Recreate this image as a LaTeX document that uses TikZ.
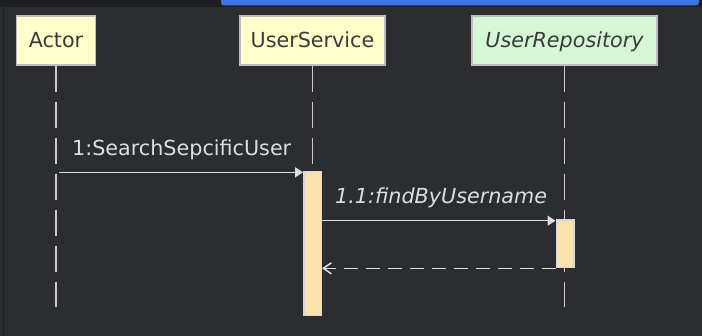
\documentclass[tikz,border=0pt]{standalone}
\usepackage{fontspec}
\setmainfont{DejaVu Sans}
\usetikzlibrary{arrows.meta}

\definecolor{canvas}{HTML}{2B2D30}
\definecolor{chrome}{HTML}{1E1F22}
\definecolor{tabblue}{HTML}{4073E6}
\definecolor{classyellow}{HTML}{FFFFCC}
\definecolor{ifacegreen}{HTML}{D5F7D5}
\definecolor{frame}{HTML}{BDBDBD}
\definecolor{ink}{HTML}{DCDDDE}
\definecolor{lifegray}{HTML}{CACACA}
\definecolor{boxtext}{HTML}{3A3A3A}
\definecolor{activation}{HTML}{FBE1B0}
\definecolor{barframe}{HTML}{D8D8D8}

\begin{document}
\begin{tikzpicture}[x=1pt,y=-1pt,
  labelfont/.style={font=\fontsize{20.7}{24}\selectfont},
  participant/.style={labelfont, draw=frame, line width=1.5pt, minimum height=49pt,
    inner sep=0pt, text height=15pt, text depth=0pt, text=boxtext},
  lifeline/.style={draw=lifegray, line width=1.5pt, dash pattern=on 26pt off 10pt},
  activationbar/.style={draw=barframe, fill=activation, line width=1.5pt,
    inner sep=0pt, minimum width=17.5pt},
  msg/.style={draw=ink, line width=1.5pt},
  call/.style={msg, -{Triangle[length=8pt,width=10pt]}},
  reply/.style={msg, dash pattern=on 14pt off 8pt,
    -{Straight Barb[length=8pt,width=11pt,line width=1.5pt]}},
  msglabel/.style={labelfont, text=ink, inner sep=0pt, anchor=base west}]

  % canvas and window chrome
  \useasboundingbox (0,0) rectangle (702,336);
  \fill[canvas] (0,0) rectangle (702,336);
  \fill[chrome] (0,0) rectangle (702,7);
  \draw[chrome, line width=1.2pt] (3.8,7) -- (3.8,336);
  \begin{scope}
    \clip (0,0) rectangle (702,336);
    \fill[tabblue, rounded corners=3pt] (221,-5) rectangle (699,5.5);
  \end{scope}

  % participants
  \node[participant, fill=classyellow, minimum width=79pt] (actor) at (56,40.5) {Actor};
  \node[participant, fill=classyellow, minimum width=145pt] (service) at (312.5,40.5) {UserService};
  \node[participant, fill=ifacegreen, minimum width=185pt] (repo) at (564.5,40.5) {\itshape UserRepository};

  % lifelines
  \coordinate (actorEnd) at (56,307);
  \coordinate (serviceEnd) at (312.5,307);
  \coordinate (repoEnd) at (564.5,307);
  \draw[lifeline] (actor.south) -- (actorEnd);
  \draw[lifeline] (service.south) -- (serviceEnd);
  \draw[lifeline] (repo.south) -- (repoEnd);

  % activation bars
  \node[activationbar, minimum height=144.2pt] (act1) at (312.5,243.6) {};
  \node[activationbar, minimum height=47.7pt] (act2) at (565,243.85) {};

  % messages
  \coordinate (m1) at (59,172.3);
  \coordinate (m2) at (0,220.7);
  \coordinate (m3) at (0,268.3);
  \draw[call] (m1) -- (m1 -| act1.west);
  \draw[call] (act1.east |- m2) -- (act2.west |- m2);
  \draw[reply] (act2.west |- m3) -- (act1.east |- m3);

  % message labels
  \node[msglabel] (l1) at (72,155.5) {1:SearchSepcificUser};
  \node[msglabel] (l2) at (335,203.3) {\itshape 1.1:findByUsername};
\end{tikzpicture}
\end{document}
